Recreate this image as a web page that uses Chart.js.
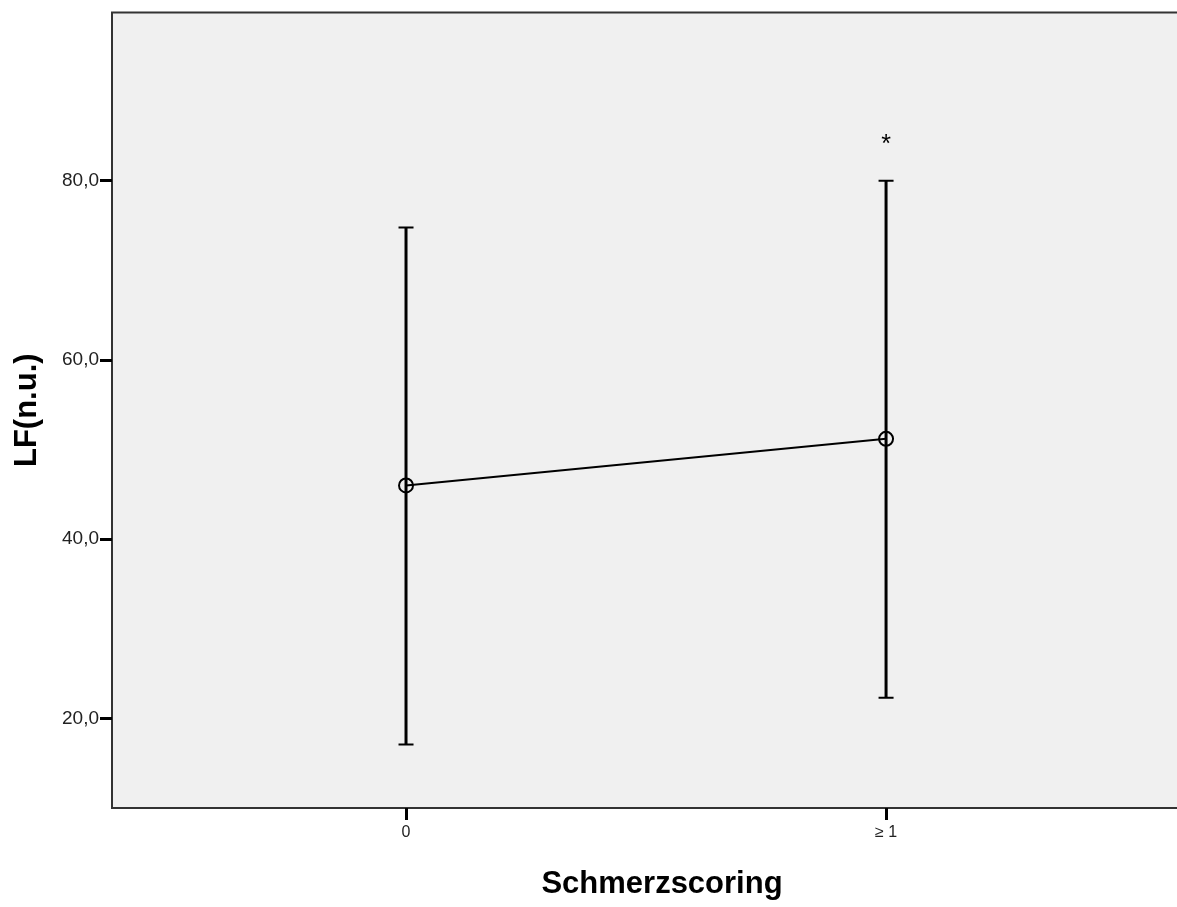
<!DOCTYPE html>
<html>
<head>
<meta charset="utf-8">
<script src="https://cdn.jsdelivr.net/npm/chart.js@4.4.1/dist/chart.umd.min.js"></script>
<style>
  html, body { margin: 0; padding: 0; background: #ffffff; overflow: hidden; }
  #wrap { width: 1212px; height: 907px; }
</style>
</head>
<body>
<div id="wrap"><canvas id="c" width="1212" height="907"></canvas></div>
<script>
// Pain score groups and LF (n.u.) mean with error range
const categories = ['0', '\u2265 1'];
const means = [46.0, 51.2];
const lowerBounds = [17.1, 22.3];
const upperBounds = [74.8, 80.0];
const significance = ['', '*'];
const yTickValues = [20, 40, 60, 80];

const FONT = 'Arial, "Liberation Sans", Helvetica, sans-serif';

// grey plot panel with a dark frame (left, top, bottom)
const panelPlugin = {
  id: 'panel',
  beforeDraw(chart) {
    const { ctx, chartArea: a } = chart;
    ctx.save();
    ctx.fillStyle = '#f0f0f0';
    ctx.fillRect(a.left, a.top, a.right - a.left, a.bottom - a.top);
    ctx.strokeStyle = '#333333';
    ctx.lineWidth = 2;
    ctx.beginPath();
    ctx.moveTo(a.right, a.top);
    ctx.lineTo(a.left, a.top);
    ctx.lineTo(a.left, a.bottom);
    ctx.lineTo(a.right, a.bottom);
    ctx.stroke();
    ctx.restore();
  }
};

// vertical error bars with caps, plus significance markers
const errorBarPlugin = {
  id: 'errorBars',
  afterDatasetsDraw(chart) {
    const { ctx, scales: { x, y } } = chart;
    ctx.save();
    ctx.strokeStyle = '#000000';
    categories.forEach((c, i) => {
      const px = x.getPixelForValue(i);
      const top = y.getPixelForValue(upperBounds[i]);
      const bot = y.getPixelForValue(lowerBounds[i]);
      ctx.lineWidth = 3;
      ctx.beginPath();
      ctx.moveTo(px, top);
      ctx.lineTo(px, bot);
      ctx.stroke();
      ctx.lineWidth = 2;
      ctx.beginPath();
      ctx.moveTo(px - 7.5, top);
      ctx.lineTo(px + 7.5, top);
      ctx.moveTo(px - 7.5, bot);
      ctx.lineTo(px + 7.5, bot);
      ctx.stroke();
      if (significance[i]) {
        ctx.fillStyle = '#000000';
        ctx.font = '25px ' + FONT;
        ctx.textAlign = 'center';
        ctx.textBaseline = 'middle';
        ctx.fillText(significance[i], px, top - 36);
      }
    });
    ctx.restore();
  }
};

new Chart(document.getElementById('c'), {
  type: 'line',
  data: {
    datasets: [{
      data: means.map((m, i) => ({ x: i, y: m })),
      borderColor: '#000000',
      borderWidth: 2,
      pointRadius: 7,
      pointBorderWidth: 2,
      pointBorderColor: '#000000',
      pointBackgroundColor: 'rgba(0,0,0,0)',
      tension: 0
    }]
  },
  options: {
    responsive: false,
    animation: false,
    devicePixelRatio: 1,
    layout: { autoPadding: false, padding: { top: 10, right: 0, left: 0, bottom: 0 } },
    plugins: { legend: { display: false }, tooltip: { enabled: false } },
    scales: {
      x: {
        type: 'linear',
        min: -0.6125,
        max: 1.679,
        afterBuildTicks(scale) { scale.ticks = categories.map((c, i) => ({ value: i })); },
        afterFit(scale) { scale.height = 99; },
        border: { display: false },
        grid: { drawOnChartArea: false, tickLength: 12, tickWidth: 3, tickColor: '#000000' },
        ticks: {
          maxRotation: 0,
          minRotation: 0,
          padding: 3,
          color: '#222222',
          font: { family: FONT, size: 16 },
          callback: (v) => categories[v]
        },
        title: {
          display: true,
          text: 'Schmerzscoring',
          color: '#000000',
          font: { family: FONT, size: 31, weight: 'bold' },
          padding: { top: 0, bottom: 4 }
        }
      },
      y: {
        type: 'linear',
        min: 10,
        max: 98.8,
        afterBuildTicks(scale) { scale.ticks = yTickValues.map(v => ({ value: v })); },
        afterFit(scale) { scale.width = 112; },
        border: { display: false },
        grid: { drawOnChartArea: false, tickLength: 12, tickWidth: 3, tickColor: '#000000' },
        ticks: {
          padding: 1,
          color: '#222222',
          font: { family: FONT, size: 19 },
          callback: (v) => v.toFixed(1).replace('.', ',')
        },
        title: {
          display: true,
          text: 'LF(n.u.)',
          color: '#000000',
          font: { family: FONT, size: 31, weight: 'bold' },
          padding: { top: 9, bottom: 0 }
        }
      }
    }
  },
  plugins: [panelPlugin, errorBarPlugin]
});
</script>
</body>
</html>
